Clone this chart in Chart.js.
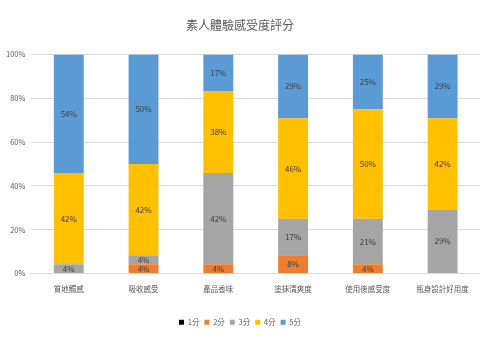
<!DOCTYPE html>
<html>
<head>
<meta charset="utf-8">
<script src="https://cdn.jsdelivr.net/npm/chart.js@4"></script>
<style>
  html, body { margin: 0; padding: 0; background: #fff; }
  #wrap { width: 480px; height: 342px; }
</style>
</head>
<body>
<div id="wrap"><canvas id="scoreChart"></canvas></div>
<script>
const categories = ['質地觸感', '吸收感受', '產品香味', '塗抹清爽度', '使用後感受度', '瓶身設計好用度'];
const seriesNames = ['1分', '2分', '3分', '4分', '5分'];
// percentage of respondents per score
const score1 = [0, 0, 0, 0, 0, 0];
const score2 = [0, 4.17, 4.17, 8.33, 4.17, 0];
const score3 = [4.17, 4.17, 41.67, 16.67, 20.83, 29.17];
const score4 = [41.67, 41.67, 37.5, 45.83, 50, 41.67];
const score5 = [54.17, 50, 16.67, 29.17, 25, 29.17];
const yTicks = [0, 20, 40, 60, 80, 100];

const colors = ['#000000', '#ED7D31', '#A5A5A5', '#FFC000', '#5B9BD5'];
const fontFamily = '"Noto Sans CJK TC", "Noto Sans", sans-serif';

// draw the % text in the middle of each segment
const segmentLabels = {
  id: 'segmentLabels',
  afterDatasetsDraw(chart) {
    const ctx = chart.ctx;
    ctx.save();
    ctx.font = '8px ' + fontFamily;
    ctx.fillStyle = '#404040';
    ctx.textAlign = 'center';
    ctx.textBaseline = 'middle';
    chart.data.datasets.forEach((ds, i) => {
      const meta = chart.getDatasetMeta(i);
      meta.data.forEach((bar, j) => {
        const v = ds.data[j];
        if (!v) return;
        ctx.fillText(Math.round(v) + '%', bar.x, (bar.y + bar.base) / 2);
      });
    });
    ctx.restore();
  }
};

const allSeries = [score1, score2, score3, score4, score5];

new Chart(document.getElementById('scoreChart').getContext('2d'), {
  type: 'bar',
  data: {
    labels: categories,
    datasets: allSeries.map((d, i) => ({
      label: seriesNames[i],
      data: d,
      backgroundColor: colors[i],
      borderWidth: 0,
      barPercentage: 0.4,
      categoryPercentage: 1
    }))
  },
  options: {
    responsive: true,
    maintainAspectRatio: false,
    animation: false,
    layout: { padding: { left: 0, right: 0, top: 0, bottom: 6 } },
    plugins: {
      title: {
        display: true,
        text: '素人體驗感受度評分',
        color: '#595959',
        font: { family: fontFamily, size: 12, weight: 'normal' },
        padding: { top: 18, bottom: 22 }
      },
      legend: {
        position: 'bottom',
        labels: {
          boxWidth: 5,
          boxHeight: 5,
          padding: 5,
          color: '#595959',
          font: { family: fontFamily, size: 7.5 }
        }
      },
      tooltip: { enabled: false }
    },
    scales: {
      x: {
        stacked: true,
        grid: { display: false },
        border: { display: false },
        afterFit: (axis) => { axis.height += 17; },
        ticks: {
          color: '#595959',
          font: { family: fontFamily, size: 7.5 },
          padding: 3,
          maxRotation: 0
        }
      },
      y: {
        stacked: true,
        min: 0,
        max: 100,
        afterBuildTicks: (axis) => { axis.ticks = yTicks.map(v => ({ value: v })); },
        grid: { color: '#D9D9D9', drawTicks: false },
        border: { display: false },
        ticks: {
          color: '#595959',
          font: { family: fontFamily, size: 7.5 },
          padding: 6,
          callback: (v) => v + '%'
        }
      }
    }
  },
  plugins: [segmentLabels]
});
</script>
</body>
</html>
